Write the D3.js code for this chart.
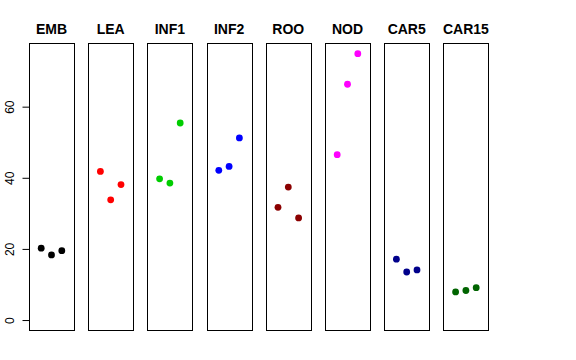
<!DOCTYPE html>
<html><head><meta charset="utf-8">
<script src="https://cdn.jsdelivr.net/npm/d3@7"></script>
<style>body{margin:0;background:#fff}svg{display:block}</style>
</head><body>
<script>
const categories = ["EMB","LEA","INF1","INF2","ROO","NOD","CAR5","CAR15"];
const colors = ["#000000","#FF0000","#00CD00","#0000FF","#8B0000","#FF00FF","#00008B","#006400"];
const values = [
  [20.2, 18.3, 19.5],
  [41.8, 33.8, 38.1],
  [39.7, 38.5, 55.4],
  [42.1, 43.2, 51.2],
  [31.7, 37.4, 28.7],
  [46.5, 66.3, 74.9],
  [17.1, 13.5, 14.1],
  [7.9, 8.3, 9.1]
];
const yTicks = [0, 20, 40, 60];

const W = 576, H = 360;
const svg = d3.select("body").append("svg").attr("width", W).attr("height", H);

const y = d3.scaleLinear().domain([-3.0, 77.9]).range([330.7, 43]);
const x = d3.scaleBand().domain(categories).range([29, 488.4]).paddingInner(0.24).paddingOuter(0);

categories.forEach((c, i) => {
  const g = svg.append("g");
  const x0 = x(c), bw = x.bandwidth();
  const xi = d3.scalePoint().domain([0,1,2]).range([x0 + bw/2 - 10.3, x0 + bw/2 + 10.3]);
  g.append("rect")
    .attr("x", Math.round(x0) + 0.5).attr("y", 43.5)
    .attr("width", Math.round(bw)).attr("height", 287)
    .attr("fill", "none").attr("stroke", "#000").attr("stroke-width", 1);
  g.append("text")
    .attr("x", x0 + bw/2).attr("y", 34)
    .attr("text-anchor", "middle")
    .attr("font-family", "Liberation Sans, Arial, sans-serif")
    .attr("font-weight", "bold").attr("font-size", 14)
    .text(c);
  g.selectAll("circle").data(values[i]).join("circle")
    .attr("cx", (d, j) => xi(j)).attr("cy", d => y(d))
    .attr("r", 3.4).attr("fill", colors[i]);
});

const axis = d3.axisLeft(y).tickValues(yTicks).tickSize(7).tickPadding(0).tickFormat(d3.format("d"));
const ag = svg.append("g").attr("transform", "translate(29.5,0)").call(axis);
ag.select(".domain").attr("d", `M0,${y(0)}V${y(60)}`).attr("stroke", "#000");
ag.selectAll(".tick line").attr("stroke", "#000");
ag.selectAll(".tick text")
  .attr("font-family", "Liberation Sans, Arial, sans-serif")
  .attr("font-size", 12).attr("fill", "#000")
  .attr("transform", function(d){ return `translate(-15.5,0) rotate(-90)`; })
  .attr("x", 0).attr("dy", 0).attr("y", 0)
  .attr("text-anchor", "middle");
</script>
</body></html>
